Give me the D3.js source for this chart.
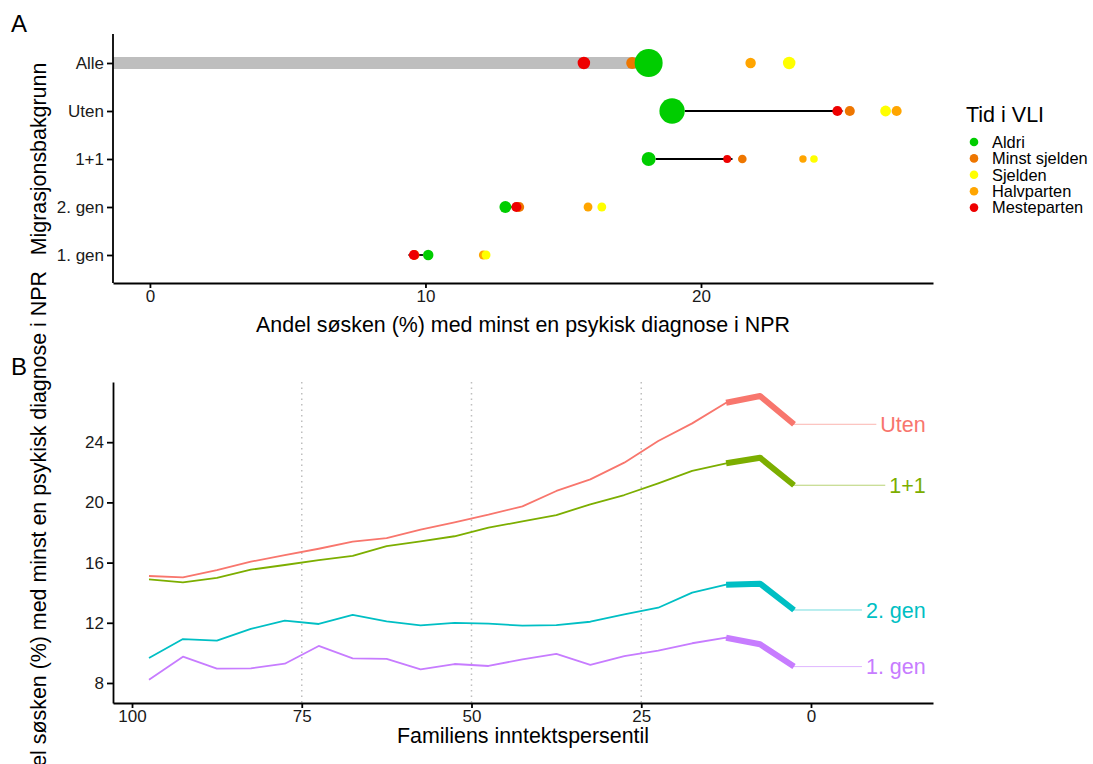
<!DOCTYPE html>
<html>
<head>
<meta charset="utf-8">
<script src="https://cdn.jsdelivr.net/npm/d3@7"></script>
<style>
  body { margin: 0; background: #fff; }
  svg { display: block; font-family: "Liberation Sans", Arial, sans-serif; }
  .axis path, .axis line { stroke: #000; stroke-width: 1.8; }
  .axis text { font-size: 17px; fill: #1a1a1a; }
</style>
</head>
<body>
<svg id="chart" width="1093" height="764"></svg>
<script>
// panel A: andel per gruppe og tid i VLI
const groups = ["Alle", "Uten", "1+1", "2. gen", "1. gen"];
const vliCats = ["Aldri", "Minst sjelden", "Sjelden", "Halvparten", "Mesteparten"];
const vliColors = ["#00CD00", "#EE7600", "#FFFF00", "#FFA500", "#EE0000"];
const aldri = [18.1, 18.95, 18.1, 12.9, 10.1];
const minstSjelden = [17.5, 25.4, 21.5, 13.4, 9.6];
const sjelden = [23.2, 26.7, 24.1, 16.4, 12.2];
const halvparten = [21.8, 27.1, 23.7, 15.9, 12.1];
const mesteparten = [15.75, 24.95, 20.95, 13.3, 9.58];
// relativ gruppestorrelse (punktstorrelse)
const nAldri = [100, 82, 25, 18, 14];
const nMinst = [18, 13, 9.5, 13, 13];
const nSjelden = [20, 15, 7.4, 10, 10];
const nHalv = [14, 13, 7, 10, 10];
const nMeste = [20, 13, 8, 13, 13];
const xTicksA = [0, 10, 20];

// panel B: inntektspersentil
const pctl = [97.5, 92.5, 87.5, 82.5, 77.5, 72.5, 67.5, 62.5, 57.5, 52.5, 47.5, 42.5, 37.5, 32.5, 27.5, 22.5, 17.5, 12.5, 7.5, 2.5];
const seriesNames = ["Uten", "1+1", "2. gen", "1. gen"];
const seriesColors = ["#F8766D", "#7CAE00", "#00BFC4", "#C77CFF"];
const uten = [15.11, 15.02, 15.5, 16.06, 16.5, 16.92, 17.39, 17.63, 18.19, 18.68, 19.18, 19.74, 20.76, 21.53, 22.64, 24.08, 25.25, 26.62, 27.07, 25.19];
const enPlusEn = [14.89, 14.69, 14.98, 15.53, 15.84, 16.17, 16.44, 17.1, 17.41, 17.75, 18.32, 18.74, 19.16, 19.87, 20.49, 21.27, 22.1, 22.6, 22.97, 21.14];
const gen2 = [9.66, 10.92, 10.81, 11.59, 12.14, 11.92, 12.52, 12.1, 11.83, 11.99, 11.94, 11.81, 11.85, 12.07, 12.56, 13.0, 14.0, 14.53, 14.6, 12.85];
const gen1 = [8.22, 9.75, 8.95, 8.97, 9.28, 10.46, 9.64, 9.6, 8.91, 9.26, 9.13, 9.57, 9.93, 9.2, 9.79, 10.15, 10.64, 11.01, 10.57, 9.09];
const xTicksB = [100, 75, 50, 25, 0];
const yTicksB = [8, 12, 16, 20, 24];
const refLines = [75, 50, 25];

const titleSize = 21.4;
const svg = d3.select("#chart");
svg.append("rect").attr("width", 1093).attr("height", 764).attr("fill", "#fff");

// ---------- panel A ----------
const xA = d3.scaleLinear().domain([-1.34, 28.42]).range([113, 933]);
const yA = d3.scalePoint().domain(groups).range([63, 255]);
const rA = d3.scaleSqrt().domain([0, 100]).range([0, 14]);

const vals = [aldri, minstSjelden, sjelden, halvparten, mesteparten];
const sizes = [nAldri, nMinst, nSjelden, nHalv, nMeste];
const points = [];
// tegnerekkefolge: Minst, Halvparten, Sjelden, Mesteparten, Aldri
[1, 3, 2, 4, 0].forEach(function (c) {
    groups.forEach(function (g, i) {
        points.push({ g: g, cat: c, v: vals[c][i], n: sizes[c][i] });
    });
});

const gA = svg.append("g");

// grå stolpe for Alle
gA.append("rect")
    .attr("x", 113)
    .attr("y", yA("Alle") - 6)
    .attr("width", xA(aldri[0]) - 113)
    .attr("height", 12)
    .attr("fill", "#BEBEBE");

svg.append("defs").append("marker")
    .attr("id", "arrow")
    .attr("viewBox", "0 0 10 10")
    .attr("refX", 1).attr("refY", 5)
    .attr("markerWidth", 3.8).attr("markerHeight", 3.8)
    .attr("orient", "auto")
    .append("path").attr("d", "M0,0 L10,5 L0,10 z").attr("fill", "#000");

// piler fra Aldri til Mesteparten (ikke for Alle)
groups.forEach(function (g, i) {
    if (i === 0) return;
    const x0 = xA(aldri[i]), x1 = xA(mesteparten[i]);
    const dir = x1 > x0 ? 1 : -1;
    gA.append("line")
        .attr("x1", x0 + dir * rA(nAldri[i]))
        .attr("x2", x1)
        .attr("y1", yA(g)).attr("y2", yA(g))
        .attr("stroke", "#000").attr("stroke-width", 1.8)
        .attr("marker-end", "url(#arrow)");
});

gA.selectAll("circle.pt").data(points).enter().append("circle")
    .attr("class", "pt")
    .attr("cx", d => xA(d.v))
    .attr("cy", d => yA(d.g))
    .attr("r", d => rA(d.n))
    .attr("fill", d => vliColors[d.cat]);

svg.append("g").attr("class", "axis")
    .attr("transform", "translate(0,283)")
    .call(d3.axisBottom(xA).tickValues(xTicksA).tickSize(5).tickSizeOuter(0).tickPadding(2));
svg.append("g").attr("class", "axis")
    .attr("transform", "translate(113,0)")
    .call(d3.axisLeft(yA).tickSize(6).tickSizeOuter(0).tickPadding(3))
    .select(".domain").attr("d", "M0,34V283");

svg.append("text").attr("x", 523).attr("y", 332).attr("text-anchor", "middle")
    .attr("font-size", titleSize).attr("fill", "#000")
    .text("Andel søsken (%) med minst en psykisk diagnose i NPR");
svg.append("text").attr("transform", "translate(46,159) rotate(-90)").attr("text-anchor", "middle")
    .attr("font-size", titleSize).attr("fill", "#000").text("Migrasjonsbakgrunn");
svg.append("text").attr("x", 11).attr("y", 32).attr("font-size", 24).text("A");

// legende
const leg = svg.append("g");
leg.append("text").attr("x", 966).attr("y", 122).attr("font-size", 21.5).text("Tid i VLI");
vliCats.forEach(function (c, i) {
    const y = 142 + i * 16.4;
    leg.append("circle").attr("cx", 974).attr("cy", y).attr("r", 4.3).attr("fill", vliColors[i]);
    leg.append("text").attr("x", 992).attr("y", y).attr("dy", "0.35em")
        .attr("font-size", 16.4).text(c);
});

// ---------- panel B ----------
const xB = d3.scaleLinear().domain([102.8, -17.97]).range([113, 933]);
const yB = d3.scaleLinear().domain([6.67, 28.0]).range([703, 382]);
const gB = svg.append("g");

gB.selectAll("line.ref").data(refLines).enter().append("line")
    .attr("x1", d => xB(d)).attr("x2", d => xB(d))
    .attr("y1", 382).attr("y2", 703)
    .attr("stroke", "#BEBEBE").attr("stroke-width", 1.5)
    .attr("stroke-dasharray", "1.5,4");

const seriesVals = [uten, enPlusEn, gen2, gen1];
const line = d3.line().x(d => xB(d[0])).y(d => yB(d[1]));
const labelEnd = xB(-16.9);

seriesVals.forEach(function (vs, s) {
    const pts = pctl.map((p, i) => [p, vs[i]]);
    gB.append("path").attr("d", line(pts))
        .attr("fill", "none").attr("stroke", seriesColors[s]).attr("stroke-width", 1.8)
        .attr("stroke-linejoin", "round");
    gB.append("path").attr("d", line(pts.slice(17)))
        .attr("fill", "none").attr("stroke", seriesColors[s]).attr("stroke-width", 6)
        .attr("stroke-linejoin", "round");
    const last = pts[pts.length - 1];
    const lbl = gB.append("text")
        .attr("x", labelEnd).attr("y", yB(last[1])).attr("dy", "0.35em")
        .attr("text-anchor", "end").attr("font-size", 21.5)
        .attr("fill", seriesColors[s]).text(seriesNames[s]);
    const w = lbl.node().getComputedTextLength();
    gB.append("line")
        .attr("x1", xB(last[0])).attr("x2", labelEnd - w - 4)
        .attr("y1", yB(last[1])).attr("y2", yB(last[1]))
        .attr("stroke", seriesColors[s]).attr("stroke-opacity", 0.55).attr("stroke-width", 1);
});

svg.append("g").attr("class", "axis")
    .attr("transform", "translate(0,703)")
    .call(d3.axisBottom(xB).tickValues(xTicksB).tickSize(5).tickSizeOuter(0).tickPadding(2));
svg.append("g").attr("class", "axis")
    .attr("transform", "translate(113,0)")
    .call(d3.axisLeft(yB).tickValues(yTicksB).tickSize(6).tickSizeOuter(0).tickPadding(3));

svg.append("text").attr("x", 523).attr("y", 743).attr("text-anchor", "middle")
    .attr("font-size", titleSize).attr("fill", "#000").text("Familiens inntektspersentil");
svg.append("text").attr("transform", "translate(46,538) rotate(-90)").attr("text-anchor", "middle")
    .attr("font-size", titleSize).attr("fill", "#000")
    .text("Andel søsken (%) med minst en psykisk diagnose i NPR");
svg.append("text").attr("x", 11).attr("y", 375).attr("font-size", 24).text("B");
</script>
</body>
</html>
